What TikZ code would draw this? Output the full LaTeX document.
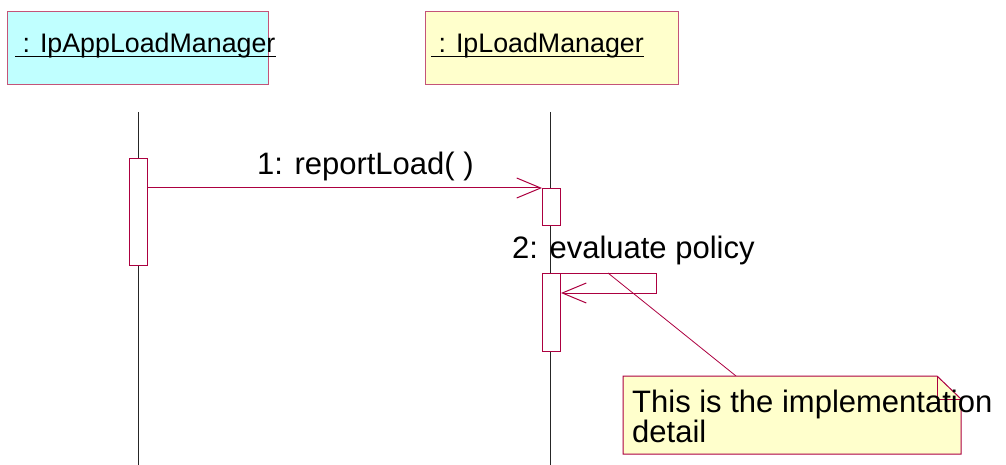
\documentclass[tikz,border=0pt]{standalone}
\usepackage{fontspec}
\setmainfont{Liberation Sans}
\usetikzlibrary{arrows.meta}
\definecolor{boxcyan}{RGB}{192,255,255}
\definecolor{boxyellow}{RGB}{255,255,204}
\definecolor{boxborder}{RGB}{196,84,120}
\definecolor{umlred}{RGB}{172,0,64}
\begin{document}
\begin{tikzpicture}[x=1pt,y=-1pt,
  objbox/.style={draw=boxborder,line width=1pt,anchor=north west,inner sep=0pt,minimum height=73pt},
  objlabel/.style={anchor=base west,inner sep=0pt,font=\fontsize{26.8}{30}\selectfont},
  lifeline/.style={draw=black!85,line width=1pt},
  actbox/.style={draw=umlred,line width=1pt,fill=white,anchor=north west,inner sep=0pt,minimum width=18pt},
  msg/.style={draw=umlred,line width=1pt,-{Straight Barb[length=24pt,width=20pt,line width=1pt]}},
  msglabel/.style={anchor=base west,inner sep=0pt,font=\fontsize{31}{30}\selectfont},
  notelabel/.style={anchor=base west,inner sep=0pt,align=left,font=\fontsize{31}{30}\selectfont}]
\useasboundingbox (0,0) rectangle (1006,465);
% object headers
\node[objbox,fill=boxcyan,minimum width=261pt] (obj1) at (7,11) {};
\node[objbox,fill=boxyellow,minimum width=253pt] (obj2) at (425,11) {};
\node[objlabel] (obj1lab) at (15,53) {\ : IpAppLoadManager};
\node[objlabel] (obj2lab) at (431,53) {\ : IpLoadManager};
\draw[line width=1.4pt] ([yshift=-3.6pt]obj1lab.base west) -- ([yshift=-3.6pt]obj1lab.base east);
\draw[line width=1.4pt] ([yshift=-3.6pt]obj2lab.base west) -- ([yshift=-3.6pt]obj2lab.base east);
% lifelines
\coordinate (l1top) at (138,112);
\coordinate (l1bot) at (138,465);
\coordinate (l2top) at (550,112);
\coordinate (l2bot) at (550,465);
\draw[lifeline] (l1top) -- (l1bot);
\draw[lifeline] (l2top) -- (l2bot);
% activations
\node[actbox,minimum height=107pt] (act1) at (129,158) {};
\node[actbox,minimum height=37pt] (act2a) at (542,188) {};
\node[actbox,minimum height=78pt] (act2b) at (542,273) {};
% message 1
\draw[msg] (act1.east |- act2a.north west) -- (act2a.north west);
\node[msglabel] (m1lab) at (257,175) {1: reportLoad( )};
% message 2 (self)
\coordinate (s1) at (656,273);
\coordinate (s2) at (656,293);
\draw[msg] (act2b.north east) -- (s1) -- (s2) -- (act2b.east |- s2);
\node[msglabel] (m2lab) at (512,258) {2: evaluate policy};
% note
\coordinate (anc) at (608,273);
\coordinate (nA) at (623,376);
\coordinate (nB) at (937,376);
\coordinate (nC) at (961,399);
\coordinate (nD) at (961,454);
\coordinate (nE) at (623,454);
\coordinate (nF) at (937,399);
\draw[umlred,line width=0.8pt] (anc) -- (736,376);
\draw[draw=umlred,line width=1pt,fill=boxyellow] (nA) -- (nB) -- (nC) -- (nD) -- (nE) -- cycle;
\draw[draw=umlred,line width=0.8pt] (nB) -- (nF) -- (nC);
\node[notelabel] (note) at (632,442) {This is the implementation\\detail};
\end{tikzpicture}
\end{document}
